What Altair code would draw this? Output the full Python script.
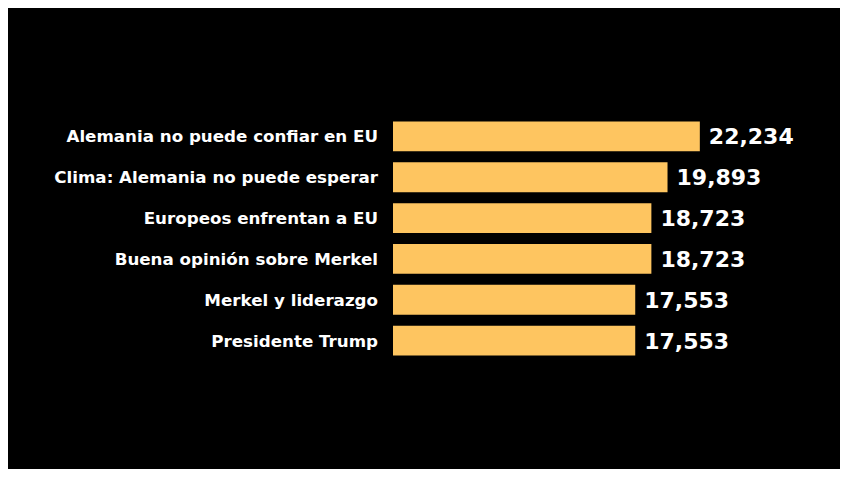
import altair as alt
import pandas as pd

categories = [
    "Alemania no puede confiar en EU",
    "Clima: Alemania no puede esperar",
    "Europeos enfrentan a EU",
    "Buena opinión sobre Merkel",
    "Merkel y liderazgo",
    "Presidente Trump",
]
values = [22234, 19893, 18723, 18723, 17553, 17553]

df = pd.DataFrame({"tema": categories, "valor": values})

y = alt.Y("tema:N", sort=None, axis=None,
          scale=alt.Scale(paddingInner=0.27, paddingOuter=0.135))
x = alt.X("valor:Q", axis=None, scale=alt.Scale(domain=[0, 30000], nice=False))

bars = alt.Chart(df).mark_bar(color="#FEC560", cornerRadius=0).encode(x=x, y=y)

values_text = alt.Chart(df).mark_text(
    align="left", baseline="middle", dx=9, dy=1,
    font="DejaVu Sans", fontSize=22, fontWeight="bold", color="white"
).encode(x=x, y=y, text=alt.Text("valor:Q", format=","))

labels = alt.Chart(df).mark_text(
    align="right", baseline="middle", dy=1,
    font="DejaVu Sans", fontSize=16.7, fontWeight="bold", color="white"
).encode(x=alt.value(-15), y=y, text="tema:N")

chart = alt.layer(bars, values_text, labels).properties(
    width=414, height=245,
    autosize=alt.AutoSizeParams(type="none"),
    padding={"left": 385, "top": 108, "right": 33, "bottom": 108},
    background="black",
).configure_view(stroke=None)

chart.save("out.html", embed_options={"renderer": "svg", "actions": False})
